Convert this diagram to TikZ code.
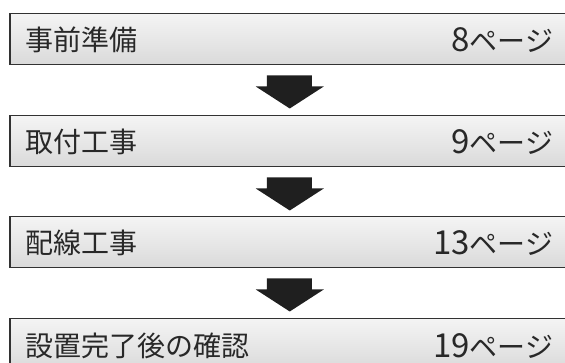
\documentclass[tikz,border=0pt]{standalone}
\usepackage{fontspec}
\setmainfont{Noto Sans CJK JP}
\usetikzlibrary{calc}
\definecolor{boxtop}{RGB}{244,244,244}
\definecolor{boxbot}{RGB}{218,218,218}
\definecolor{edge}{RGB}{50,50,50}
\definecolor{ink}{RGB}{40,40,40}
\newcommand{\digs}[1]{{\fontsize{33pt}{34pt}\selectfont #1}}
\tikzset{
  stepbox/.style={draw=edge, line width=1.5pt, top color=boxtop, bottom color=boxbot,
    minimum width=560pt, minimum height=51pt, anchor=north west, inner sep=0pt},
  lefttxt/.style={anchor=base west, font=\fontsize{28pt}{30pt}\selectfont, text=ink, inner sep=0pt},
  righttxt/.style={anchor=base east, font=\fontsize{28pt}{30pt}\selectfont, text=ink, inner sep=0pt},
  flowarrow/.style={fill=black!88, draw=none}
}
\newcommand{\downarrowat}[1]{%
  \fill[flowarrow] ($(#1.south)+(-23,10)$) -- ($(#1.south)+(22,10)$) -- ($(#1.south)+(22,21)$)
    -- ($(#1.south)+(34,21)$) -- ($(#1.south)+(0,43)$) -- ($(#1.south)+(-34,21)$)
    -- ($(#1.south)+(-23,21)$) -- cycle;}
\begin{document}
\begin{tikzpicture}[x=1pt,y=-1pt]
\useasboundingbox (0,0) rectangle (565,363);
\clip (0,0) rectangle (565,363);
\fill[white] (0,0) rectangle (565,363);
\node[stepbox] (b1) at (9,13) {};
\node[stepbox] (b2) at (9,115) {};
\node[stepbox] (b3) at (9,216) {};
\node[stepbox] (b4) at (9,318) {};
\node[lefttxt] (l1) at ($(b1.north west)+(16,38)$) {事前準備};
\node[righttxt] (r1) at ($(b1.north east)+(-17,39)$) {\digs{8}ページ};
\node[lefttxt] (l2) at ($(b2.north west)+(16,38)$) {取付工事};
\node[righttxt] (r2) at ($(b2.north east)+(-17,39)$) {\digs{9}ページ};
\node[lefttxt] (l3) at ($(b3.north west)+(16,38)$) {配線工事};
\node[righttxt] (r3) at ($(b3.north east)+(-17,39)$) {\digs{13}ページ};
\node[lefttxt] (l4) at ($(b4.north west)+(16,38)$) {設置完了後の確認};
\node[righttxt] (r4) at ($(b4.north east)+(-17,39)$) {\digs{19}ページ};
\downarrowat{b1}
\downarrowat{b2}
\downarrowat{b3}
\end{tikzpicture}
\end{document}
